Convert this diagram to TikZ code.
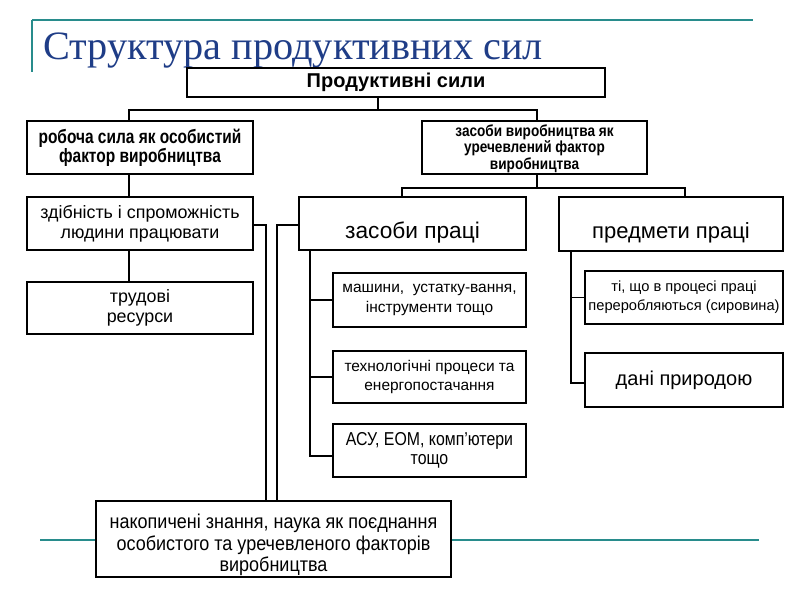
\documentclass[tikz,border=0pt]{standalone}
\usepackage{fontspec}
\setmainfont{Liberation Sans}
\newfontfamily\titlefont{Liberation Serif}
\newfontfamily\narrowfont{Liberation Sans}[FakeStretch=0.8]
\newfontfamily\narrowfontc{Liberation Sans}[FakeStretch=0.85]
\newfontfamily\narrowfontb{Liberation Sans}[FakeStretch=0.9]
\newcommand\myfs[2]{\fontsize{#1}{#2}\selectfont}
\definecolor{titleblue}{RGB}{31,61,135}
\definecolor{tealline}{RGB}{40,140,140}
\begin{document}
\begin{tikzpicture}[x=0.75pt,y=-0.75pt,
  box/.style={draw=black,line width=0.8pt,fill=white,align=center,inner sep=0pt},
  txt/.style={align=center,inner sep=0pt},
  conn/.style={draw=black,line width=0.8pt},
  deco/.style={draw=tealline,line width=2.2pt}]
\useasboundingbox[fill=white] (0,0) rectangle (800,600);
% decorative lines
\draw[deco] (32,20) -- (753,20);
\draw[deco] (32,20) -- (32,72);
\draw[deco] (40,540) -- (759,540);
% title
\node[anchor=base west,inner sep=0pt,text=titleblue,font=\titlefont\myfs{30.2}{34}] (title) at (43,59) {Структура продуктивних сил};
% boxes
\node[box,minimum width=418*0.75pt,minimum height=29*0.75pt,font=\bfseries\myfs{15}{17}] (top) at (396,82.5) {Продуктивні сили};
\node[box,minimum width=226*0.75pt,minimum height=53*0.75pt,font=\narrowfont\bfseries\myfs{14.5}{14.5}] (rob) at (140,147.5) {робоча сила як особистий\\фактор виробництва};
\node[box,minimum width=225*0.75pt,minimum height=53*0.75pt] (zv) at (534.5,147.5) {};
\node[txt,font=\narrowfontc\bfseries\myfs{12}{12.3}] (zvt) at ([yshift=-0.8pt]zv.center) {засоби виробництва як\\уречевлений фактор\\виробництва};
\node[box,minimum width=226*0.75pt,minimum height=53*0.75pt,font=\myfs{13.4}{15}] (zd) at (140,223.5) {здібність і спроможність\\людини працювати};
\node[box,minimum width=226*0.75pt,minimum height=52*0.75pt,font=\myfs{13.4}{15}] (tr) at (140,308) {трудові\\ресурси};
\node[box,minimum width=227*0.75pt,minimum height=53*0.75pt] (zp) at (412.5,223.5) {};
\node[txt,font=\myfs{17}{19}] (zpt) at ([yshift=-7pt]zp.center) {засоби праці};
\node[box,minimum width=224*0.75pt,minimum height=54*0.75pt] (pp) at (671,224) {};
\node[txt,font=\myfs{16.5}{19}] (ppt) at ([yshift=-6.5pt]pp.center) {предмети праці};
\node[box,minimum width=193*0.75pt,minimum height=54*0.75pt,font=\myfs{11.6}{14.5}] (ma) at (429.5,300) {машини,\ \ устатку-вання,\\інструменти тощо};
\node[box,minimum width=193*0.75pt,minimum height=52*0.75pt,font=\myfs{11.6}{14.5}] (te) at (429.5,377) {технологічні процеси та\\енергопостачання};
\node[box,minimum width=193*0.75pt,minimum height=53*0.75pt,font=\narrowfontc\myfs{14}{14.5}] (asu) at (429.5,450.5) {АСУ, ЕОМ, комп’ютери\\тощо};
\node[box,minimum width=198*0.75pt,minimum height=53*0.75pt,font=\myfs{11}{14}] (ti) at (684,297.5) {ті, що в процесі праці\\переробляються (сировина)};
\node[box,minimum width=198*0.75pt,minimum height=54*0.75pt,font=\myfs{15}{17}] (da) at (684,380) {дані природою};
\node[box,minimum width=355*0.75pt,minimum height=76*0.75pt] (nz) at (273.5,539) {};
\node[txt,font=\narrowfontb\myfs{15}{16}] (nzt) at ([yshift=-4.5pt]nz.center) {накопичені знання, наука як поєднання\\особистого та уречевленого факторів\\виробництва};
% connector coordinates
\coordinate (j0) at (378,110);
\coordinate (b1l) at (129,110);
\coordinate (b1r) at (537,110);
\coordinate (j1) at (537,188);
\coordinate (b2l) at (402,188);
\coordinate (b2r) at (685,188);
\coordinate (zdr) at (266,225);
\coordinate (zpl) at (277,225);
\coordinate (v1) at (310,456);
\coordinate (v2) at (571,383);
% connectors
\draw[conn] (top.south -| j0) -- (j0);
\draw[conn] (rob.north -| b1l) |- (b1r) -- (zv.north -| b1r);
\draw[conn] (rob.south -| b1l) -- (zd.north -| b1l);
\draw[conn] (zd.south -| b1l) -- (tr.north -| b1l);
\draw[conn] (zv.south -| j1) -- (j1);
\draw[conn] (zp.north -| b2l) |- (b2r) -- (pp.north -| b2r);
\draw[conn] (zd.east |- zdr) -- (zdr) -- (nz.north -| zdr);
\draw[conn] (zp.west |- zpl) -- (zpl) -- (nz.north -| zpl);
\draw[conn] (zp.south -| v1) |- (asu.west |- v1);
\draw[conn] (ma.west) -| (v1);
\draw[conn] (te.west) -| (v1);
\draw[conn] (pp.south -| v2) |- (da.west |- v2);
\draw[conn] (ti.west) -| (v2);
\end{tikzpicture}
\end{document}
